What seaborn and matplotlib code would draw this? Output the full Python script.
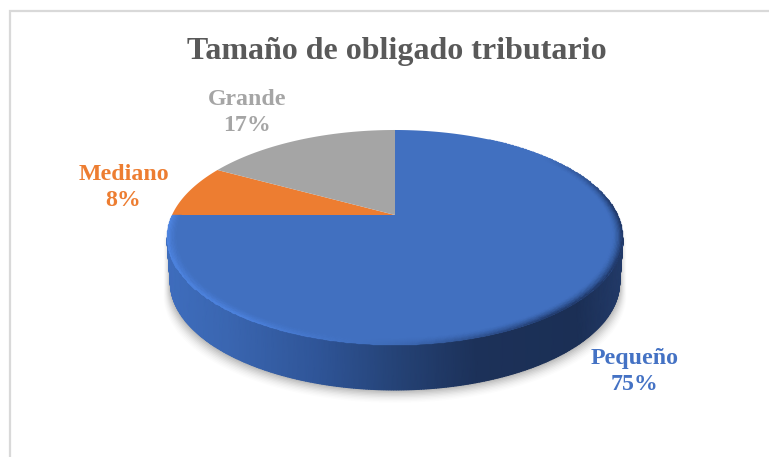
import numpy as np
import matplotlib
matplotlib.use("Agg")
import matplotlib.pyplot as plt
from matplotlib.colors import LinearSegmentedColormap, to_rgb
from matplotlib.patches import Polygon
import seaborn as sns

categories = ["Pequeño", "Mediano", "Grande"]
values = [75, 8, 17]
slice_colors = ["#4170C0", "#ED7D31", "#A5A5A5"]
label_colors = ["#4472C4", "#ED7D31", "#A5A5A5"]
title = "Tamaño de obligado tributario"

W, H = 769, 457
APEX = (395.0, 215.0)
BX, AY, K = 223.0, 102.8, 0.2093
DEPTH = 45.0
BOTTOM_SCALE = 0.985

sns.set_theme(style="white")
plt.rcParams["font.family"] = ["Liberation Serif", "DejaVu Serif"]

fig = plt.figure(figsize=(W / 100, H / 100), dpi=100, facecolor="white")
ax = fig.add_axes([0, 0, 1, 1])


def project(x, y):
    w = 1 + K * y
    return APEX[0] + BX * x / w, APEX[1] - AY * y / w


wedges, _ = ax.pie(values, colors=slice_colors, startangle=90, counterclock=False,
                   wedgeprops=dict(linewidth=0))
ax.set_aspect("auto")
ax.set_xlim(0, W)
ax.set_ylim(H, 0)
ax.axis("off")

# top face: pie wedges put through the perspective
for wedge in wedges:
    t = np.radians(np.linspace(wedge.theta1, wedge.theta2, 200))
    xs = np.r_[0, wedge.r * np.cos(t)]
    ys = np.r_[0, wedge.r * np.sin(t)]
    px, py = project(xs, ys)
    ax.add_patch(Polygon(np.c_[px, py], closed=True, fc=wedge.get_facecolor(), ec="none", zorder=5))
    wedge.set_visible(False)

# lower silhouette of the disc
a0 = np.arcsin(K)
th = np.linspace(np.pi + a0, 2 * np.pi - a0, 300)
sx, sy = project(np.cos(th), np.sin(th))
bx_low = APEX[0] + (sx - APEX[0]) * BOTTOM_SCALE

# soft shadow
for grow, alpha in zip(np.linspace(15, 2, 9), [0.012, 0.016, 0.02, 0.024, 0.03, 0.036, 0.04, 0.05, 0.05]):
    off = DEPTH + grow * 0.85
    cx = APEX[0] + (sx - APEX[0]) * (BOTTOM_SCALE + grow / 500)
    poly = np.r_[np.c_[cx, sy + off], np.c_[cx[::-1], sy[::-1] - 10]]
    ax.add_patch(Polygon(poly, closed=True, fc="black", alpha=alpha, ec="none", zorder=1))

# side wall with a left to right gradient
side_cmap = LinearSegmentedColormap.from_list(
    "side",
    [(0.0, "#3E6DBD"), (0.13, "#3A66B1"), (0.33, "#2F5598"), (0.5, "#254377"),
     (0.68, "#1C3159"), (0.9, "#1B2F55"), (1.0, "#223A68")],
)
X = np.vstack([sx, bx_low])
Y = np.vstack([sy, sy + DEPTH])
ax.pcolormesh(X, Y, X, cmap=side_cmap, shading="gouraud", zorder=3,
              vmin=sx.min(), vmax=sx.max())

# bevel around the front of the blue slice, fading out on the upper right
blue = np.array(to_rgb(slice_colors[0]))
light = np.array(to_rgb("#4F86E4"))
mid = np.array(to_rgb("#3D6AB6"))
dark = np.array(to_rgb("#1D3360"))
tb = np.radians(np.linspace(180, 420, 481))
rb = np.linspace(0.955, 1.0, 9)
T, R = np.meshgrid(tb, rb)
bx, by = project(R * np.cos(T), R * np.sin(T))
tc = 0.5 * (tb[:-1] + tb[1:])
rc = 0.5 * (rb[:-1] + rb[1:])
deg = np.degrees(tc)
edge = np.zeros((len(tc), 3))
for i in range(3):
    edge[:, i] = np.interp(deg, [180, 200, 235, 270, 305, 345, 365, 400, 420],
                           [light[i], light[i], light[i], mid[i], dark[i], dark[i], dark[i], blue[i], blue[i]])
f = ((rc - rb[0]) / (rb[-1] - rb[0])) ** 1.6
cols = np.zeros((len(rc), len(tc), 4))
cols[..., :3] = blue[None, None, :] * (1 - f[:, None, None]) + edge[None, :, :] * f[:, None, None]
cols[..., 3] = 1
ax.pcolormesh(bx, by, cols, shading="flat", zorder=6, antialiased=True, edgecolors="face", linewidth=0.2)

# frame: only the top and left edges fall inside the picture
ax.plot([9.5, 9.5, W], [H, 10.5, 10.5], color="#D9D9D9", lw=1.6, zorder=0, solid_joinstyle="miter")

ax.text(396.5, 52, title, color="#595959", fontsize=23, fontweight="bold", ha="center", va="center", zorder=10)

label_pos = [(634.5, 371.5), (123.5, 187.5), (247, 112.5)]
for name, v, c, (lx, ly) in zip(categories, values, label_colors, label_pos):
    ax.text(lx, ly, f"{name}\n{v}%", color=c, fontsize=17.2, fontweight="bold", ha="center", va="center",
            linespacing=1.36, zorder=10)

fig.savefig("out.png", dpi=100, facecolor="white")
